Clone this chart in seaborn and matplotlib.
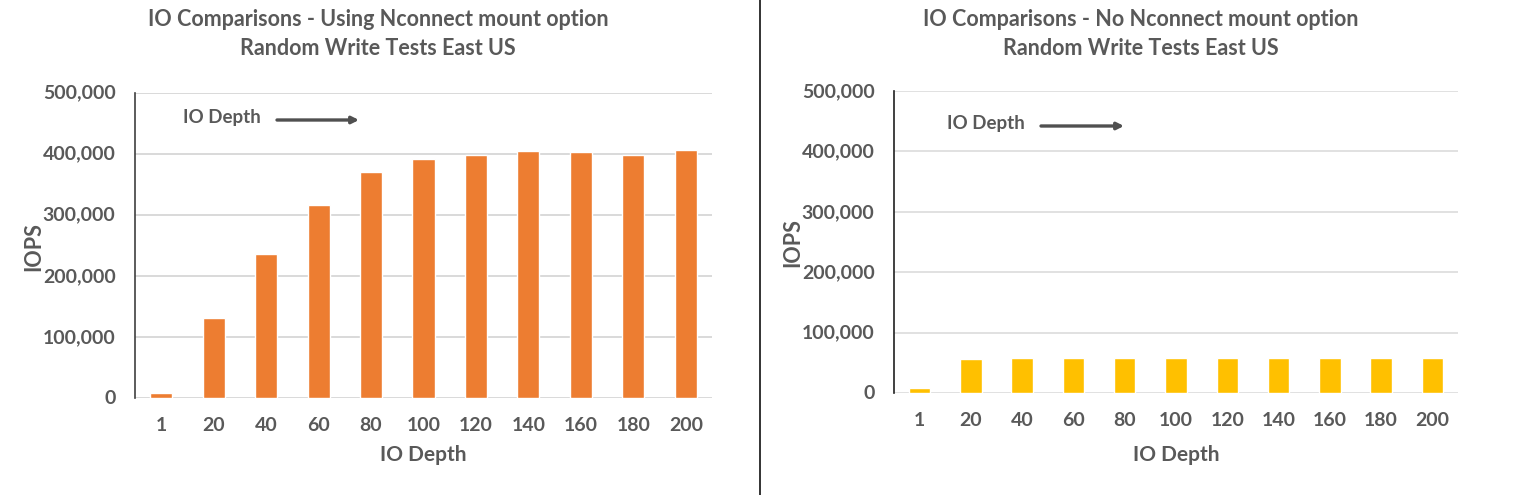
import matplotlib
matplotlib.use("Agg")
import matplotlib.pyplot as plt
from matplotlib.lines import Line2D
from matplotlib.patches import FancyArrowPatch
from matplotlib.ticker import FuncFormatter
from matplotlib.transforms import ScaledTranslation
import pandas as pd
import seaborn as sns

io_depths = ["1", "20", "40", "60", "80", "100", "120", "140", "160", "180", "200"]
iops_nconnect = [8000, 131000, 236000, 316000, 370000, 391000, 398000, 405000, 402000, 397000, 406000]
iops_no_nconnect = [8000, 56000, 58000, 58000, 58000, 58000, 58000, 58000, 58000, 58000, 58000]
y_ticks = [0, 100000, 200000, 300000, 400000, 500000]

TEXT = "#595959"
W, H = 1513, 495

sns.set_theme(style="white")
plt.rcParams["font.family"] = ["Lato", "DejaVu Sans"]


def draw_panel(fig, box, values, color, title, title_x, note_xy, arrow, ylabel_x, grid_lw, spine_color):
    left, top, right, bottom = box
    ax = fig.add_axes([left / W, 1 - bottom / H, (right - left) / W, (bottom - top) / H])
    df = pd.DataFrame({"depth": io_depths, "iops": values})
    sns.barplot(data=df, x="depth", y="iops", color=color, width=0.42, saturation=1, ax=ax, zorder=3)
    ax.set_ylim(0, 500000)
    ax.set_yticks(y_ticks)
    ax.yaxis.set_major_formatter(FuncFormatter(lambda v, _: f"{int(v):,}"))
    ax.grid(axis="y", color="#d9d9d9", lw=grid_lw, zorder=0)
    ax.set_axisbelow(True)
    for side in ["top", "right", "bottom"]:
        ax.spines[side].set_visible(False)
    ax.spines["left"].set_color(spine_color)
    ax.spines["left"].set_linewidth(1.2)
    ax.tick_params(axis="y", length=7, width=1.2, color=spine_color, pad=7, labelsize=14, labelcolor=TEXT)
    ax.tick_params(axis="x", length=0, pad=14, labelsize=14, labelcolor=TEXT)
    nudge = ScaledTranslation(0, 1 / 100, fig.dpi_scale_trans)
    for lab in ax.get_yticklabels():
        lab.set_fontweight("bold")
        lab.set_transform(lab.get_transform() + nudge)
    for lab in ax.get_xticklabels():
        lab.set_fontweight("bold")
    ax.set_xlabel("")
    ax.set_ylabel("")
    fig.text((left + right) / 2 / W, 1 - 455 / H, "IO Depth", ha="center", va="center",
             fontsize=15, fontweight="bold", color=TEXT)
    fig.text(ylabel_x / W, 1 - ((top + bottom) / 2 + 1) / H, "IOPS", rotation=90, ha="center", va="center",
             fontsize=15.5, fontweight="bold", color=TEXT)
    fig.text(title_x / W, 1 - 34 / H, title, ha="center", va="center", fontsize=15.5, fontweight="bold",
             color=TEXT, linespacing=1.42)
    fig.text(note_xy[0] / W, 1 - note_xy[1] / H, "IO Depth", ha="left", va="center", fontsize=13.5,
             fontweight="bold", color=TEXT)
    fig.add_artist(FancyArrowPatch(
        (arrow[0] / W, 1 - arrow[2] / H), (arrow[1] / W, 1 - arrow[2] / H),
        transform=fig.transFigure, arrowstyle="-|>", mutation_scale=10, lw=2.4, color="#505050",
        shrinkA=0, shrinkB=0))
    return ax


fig = plt.figure(figsize=(W / 100, H / 100), dpi=100, facecolor="white")

draw_panel(fig, (135, 92.5, 712, 398), iops_nconnect, "#ed7d31",
           "IO Comparisons - Using Nconnect mount option\nRandom Write Tests East US", 378,
           (183, 117), (277, 359, 120), 34, 1.4, "#404040")
draw_panel(fig, (894, 91, 1458, 393), iops_no_nconnect, "#ffc000",
           "IO Comparisons - No Nconnect mount option\nRandom Write Tests East US", 1141,
           (947, 123), (1041, 1124, 126), 793, 1.1, "#202020")

fig.add_artist(Line2D([760 / W, 760 / W], [0, 1], transform=fig.transFigure, color="#111111", lw=1.2))

fig.savefig("out.png", dpi=100)
